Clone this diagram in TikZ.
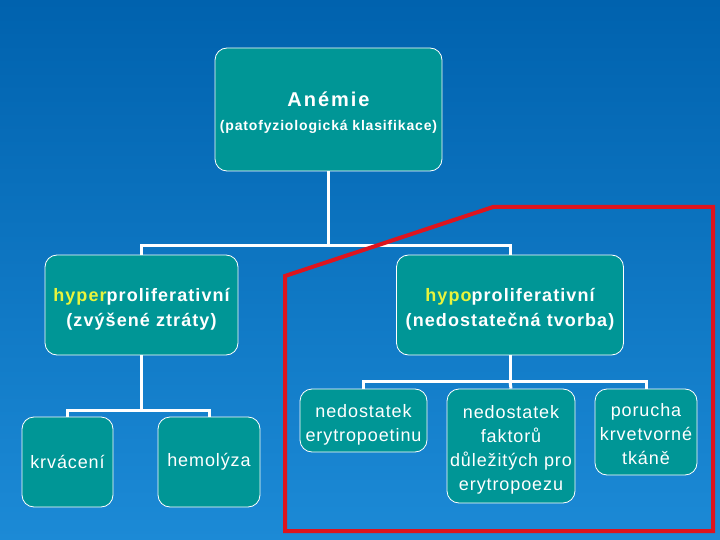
\documentclass[tikz,border=0pt]{standalone}
\usepackage{fontspec}
\setmainfont{Liberation Sans}[LetterSpace=5]
\newfontfamily\headfont{Liberation Sans}[LetterSpace=6]
\newfontfamily\titlefont{Liberation Sans}[LetterSpace=10]
\usetikzlibrary{positioning}
\definecolor{bgtop}{RGB}{0,98,174}
\definecolor{bgbot}{RGB}{28,138,214}
\definecolor{teal}{RGB}{0,150,150}
\definecolor{hilite}{RGB}{232,244,60}
\definecolor{frame}{RGB}{222,20,30}
% lower a block of centred lines without changing the box it takes up
\newcommand{\lowered}[1]{\raisebox{-4pt}[\height][\depth]{\begin{tabular}{@{}c@{}}#1\end{tabular}}}

\begin{document}
\begin{tikzpicture}[x=1pt, y=-1pt, font=\fontsize{18}{24}\selectfont,
  box/.style={draw=white, fill=teal, rounded corners=12pt, align=center, text=white,
    inner sep=0pt, line width=0.8pt},
  head/.style={font=\headfont\bfseries\fontsize{18}{25}\selectfont},
  link/.style={draw=white, line width=3pt}]
  \useasboundingbox (0,0) rectangle (720,540);
  \shade[top color=bgtop, bottom color=bgbot] (0,0) rectangle (720,540);
  \node[box, minimum width=227pt, minimum height=123pt] (anemie) at (328.5,109.5)
    {\lowered{{\titlefont\bfseries\fontsize{20}{24}\selectfont An\'emie}\\{\headfont\bfseries\fontsize{14}{18}\selectfont(patofyziologick\'a klasifikace)}}};
  \node[box, head, minimum width=193pt, minimum height=100pt] (hyper) at (141.5,305)
    {\lowered{\textcolor{hilite}{hyper}proliferativn\'i\\(zv\'y\v{s}en\'e ztr\'aty)}};
  \node[box, head, minimum width=227pt, minimum height=100pt] (hypo) at (510,305)
    {\lowered{\textcolor{hilite}{hypo}proliferativn\'i\\(nedostate\v{c}n\'a tvorba)}};
  \node[box, minimum width=91pt, minimum height=90pt] (krvaceni) at (67.5,462) {krv\'acen\'i};
  \node[box, minimum width=102pt, minimum height=90pt] (hemolyza) at (209,462) {hemol\'yza};
  \node[box, minimum width=127pt, minimum height=63pt] (epo) at (363.5,420.5)
    {\lowered{nedostatek\\erytropoetinu}};
  \node[box, minimum width=128pt, minimum height=114pt] (faktory) at (511,446)
    {\lowered{nedostatek\\faktor\r{u}\\d\r{u}le\v{z}it\'ych pro\\erytropoezu}};
  \node[box, minimum width=102pt, minimum height=86pt] (porucha) at (646,432)
    {\lowered{porucha\\krvetvorn\'e\\tk\'an\v{e}}};
  % tree links
  \draw[link] (anemie.south) -- ++(0,74) coordinate (split) -| (hyper.north);
  \draw[link] (split) -| (hypo.north);
  \draw[link] (hyper.south) -- ++(0,55) coordinate (splitL) -| (krvaceni.north);
  \draw[link] (splitL) -| (hemolyza.north);
  \draw[link] (hypo.south) -- ++(0,26) coordinate (splitR) -| (epo.north);
  \draw[link] (splitR) -| (porucha.north);
  \draw[link] (splitR) -- (faktory.north);
  % red frame
  \draw[frame, line width=4pt, line join=miter] (285,276) -- (493,207) -- (713,207) -- (713,531) -- (285,531) -- cycle;
\end{tikzpicture}
\end{document}
